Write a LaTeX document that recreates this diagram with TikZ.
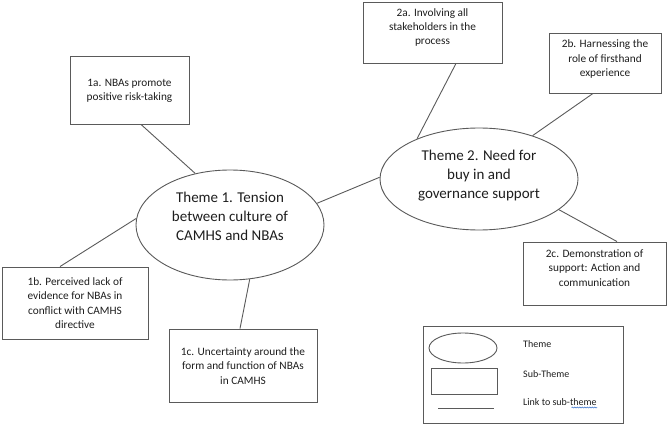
\documentclass[tikz,border=0pt]{standalone}
\usepackage{fontspec}
\setmainfont{Carlito}
\usetikzlibrary{shapes.geometric,decorations.pathmorphing}
\definecolor{linec}{HTML}{5A5A5A}
\definecolor{txtc}{HTML}{1E1E1E}
\definecolor{spell}{HTML}{4A7FD0}
\begin{document}
\begin{tikzpicture}[x=1pt,y=-1pt,
  subbox/.style={draw=linec,line width=0.9pt,fill=white,inner sep=0pt,rectangle},
  themeell/.style={draw=linec,line width=0.9pt,fill=white,inner sep=0pt,ellipse},
  subtext/.style={align=center,text=txtc,inner sep=0pt,font=\fontsize{11.3}{14.3}\selectfont},
  themetext/.style={align=center,text=txtc,inner sep=0pt,font=\fontsize{15}{19}\selectfont},
  legtext/.style={anchor=west,text=txtc,inner sep=0pt,font=\fontsize{10}{12}\selectfont},
  link/.style={draw=linec,line width=0.9pt}]
\useasboundingbox (0,0) rectangle (669,425);

% theme ellipses
\node[themeell,minimum width=188pt,minimum height=110pt] (t1) at (230,225) {};
\node[themeell,minimum width=198pt,minimum height=102pt] (t2) at (479,179) {};
\node[themetext] (t1txt) at (230,216) {Theme 1. Tension\\between culture of\\CAMHS and NBAs};
\node[themetext] (t2txt) at (479,176) {Theme 2. Need for\\buy in and\\governance support};

% sub-theme boxes
\node[subbox,minimum width=119pt,minimum height=68pt] (b1a) at (129.5,90) {};
\node[subbox,minimum width=139pt,minimum height=61pt] (b2a) at (432.5,32.5) {};
\node[subbox,minimum width=112pt,minimum height=60pt] (b2b) at (605,63) {};
\node[subbox,minimum width=146pt,minimum height=72pt] (b1b) at (75,303) {};
\node[subbox,minimum width=148pt,minimum height=73pt] (b1c) at (243,365.5) {};
\node[subbox,minimum width=143pt,minimum height=63pt] (b2c) at (594.5,273.5) {};

\node[subtext] (b1atxt) at (129.5,90.5) {1a. NBAs promote\\positive risk-taking};
\node[subtext] (b2atxt) at (432.5,27.5) {2a. Involving all\\stakeholders in the\\process};
\node[subtext] (b2btxt) at (605,59) {2b. Harnessing the\\role of firsthand\\experience};
\node[subtext] (b1btxt) at (75,303) {1b. Perceived lack of\\evidence for NBAs in\\conflict with CAMHS\\directive};
\node[subtext] (b1ctxt) at (243,366) {1c. Uncertainty around the\\form and function of NBAs\\in CAMHS};
\node[subtext] (b2ctxt) at (594.5,268) {2c. Demonstration of\\support: Action and\\communication};

% links
\draw[link] ([xshift=11.5pt]b1a.south) -- (t1.124);
\draw[link] ([xshift=-15pt]b1b.north) -- (t1.176);
\draw[link] ([xshift=-3pt]b1c.north) -- (t1.290);
\draw[link] (t1.14) -- (t2.179);
\draw[link] ([xshift=23.5pt]b2a.south) -- (t2.147);
\draw[link] ([xshift=-12pt]b2b.south) -- (t2.39);
\draw[link] ([xshift=22.5pt]b2c.north) -- (t2.339);

% legend
\node[subbox,minimum width=200pt,minimum height=97pt] (leg) at (523,374.5) {};
\node[themeell,minimum width=68pt,minimum height=30pt] (legell) at (463,348) {};
\node[subbox,minimum width=66pt,minimum height=26pt] (legbox) at (464,381) {};
\coordinate (legl1) at (438,408);
\coordinate (legl2) at (494,408);
\draw[link] (legl1) -- (legl2);
\node[legtext] (legt1) at (523,344) {Theme};
\node[legtext] (legt2) at (523,374) {Sub-Theme};
\node[legtext] (legt3) at (523,402) {Link to sub-theme};
\coordinate (sp1) at (571.5,407.5);
\coordinate (sp2) at (597,407.5);
\draw[spell,line width=0.6pt,decorate,decoration={snake,amplitude=0.5pt,segment length=2.5pt}] (sp1) -- (sp2);
\end{tikzpicture}
\end{document}
